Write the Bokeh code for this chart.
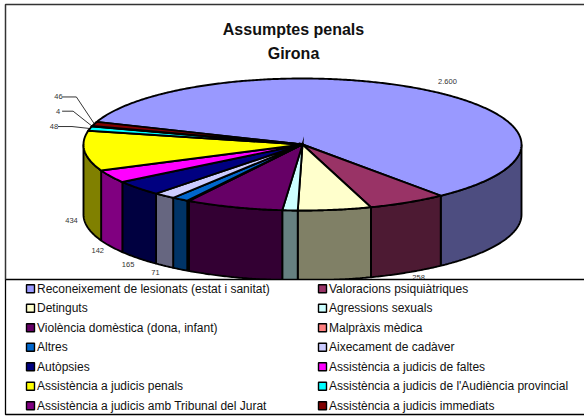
import math
from bokeh.plotting import figure
from bokeh.models import Range1d
from bokeh.core.properties import value
from bokeh.embed import file_html
from bokeh.resources import INLINE

categories = ["Reconeixement de lesionats (estat i sanitat)", "Valoracions psiquiàtriques", "Detinguts",
              "Agressions sexuals", "Violència domèstica (dona, infant)", "Malpràxis mèdica", "Altres",
              "Aixecament de cadàver", "Autòpsies", "Assistència a judicis de faltes",
              "Assistència a judicis penals", "Assistència a judicis de l'Audiència provincial",
              "Assistència a judicis amb Tribunal del Jurat", "Assistència a judicis immediats"]
values = [2600, 258, 240, 50, 320, 6, 55, 71, 165, 142, 434, 48, 4, 46]
top_colors = ["#9999ff", "#993366", "#ffffcc", "#ccffff", "#660066", "#ff8080", "#0066cc",
              "#ccccff", "#000080", "#ff00ff", "#ffff00", "#00ffff", "#800080", "#800000"]
side_colors = ["#4d4d80", "#4d1a33", "#808066", "#668080", "#330033", "#804040", "#003366",
               "#666680", "#000040", "#800080", "#808000", "#008080", "#400040", "#400000"]
shown_labels = {0: "2.600", 1: "258", 7: "71", 8: "165", 9: "142", 10: "434", 11: "48", 12: "4", 13: "46"}
label_offsets = {0: (18, -9), 1: (11, 75), 7: (-9, 77), 8: (-10, 76), 9: (-13, 74), 10: (-13, 70), 11: (-36, -2), 12: (-34, -15), 13: (-36, -27)}

CX, CY, RX, RY, DEPTH = 302, 144, 219, 66, 70
START = -70.0

p = figure(width=584, height=416, output_backend="svg", toolbar_location=None,
           x_range=Range1d(0, 584), y_range=Range1d(416, 0), min_border=0,
           margin=(0, 0, 0, 0), outline_line_color=None, background_fill_color="white")
p.xaxis.visible = False
p.yaxis.visible = False
p.xgrid.visible = False
p.ygrid.visible = False


def pt(a, dz=0):
    r = math.radians(a)
    return CX + RX * math.sin(r), CY - RY * math.cos(r) + dz


def arc(a0, a1, dz=0):
    n = max(2, int(abs(a1 - a0) * 2) + 2)
    return [pt(a0 + (a1 - a0) * i / (n - 1), dz) for i in range(n)]


total = sum(values)
edges = [START]
for v in values:
    edges.append(edges[-1] + 360 * v / total)

# sides
for i in range(len(values)):
    a0, a1 = max(edges[i], 90), min(edges[i + 1], 270)
    if a1 <= a0:
        continue
    pts = arc(a0, a1) + arc(a1, a0, DEPTH)
    p.patch([q[0] for q in pts], [q[1] for q in pts], fill_color=side_colors[i],
            line_color="black", line_width=1.9)

# tops
for i in range(len(values)):
    pts = [(CX, CY)] + arc(edges[i], edges[i + 1])
    p.patch([q[0] for q in pts], [q[1] for q in pts], fill_color=top_colors[i],
            line_color="black", line_width=1.9, line_join="miter")

# data labels and leaders
for i, t in shown_labels.items():
    mid = (edges[i] + edges[i + 1]) / 2
    x, y = pt(mid)
    dx, dy = label_offsets[i]
    p.text([x + dx], [y + dy], text=[t], text_font=value("Liberation Sans"), text_font_size="7.5px",
           text_color="#333333", text_align="center", text_baseline="middle")
    if i in (11, 12, 13):
        elbow = {11: 14, 12: 11, 13: 14}[i]
        lx = x + dx
        p.line([lx + 4, lx + 4 + elbow, x], [y + dy, y + dy, y], line_color="black", line_width=0.8)

# legend box
p.quad(left=[5], right=[590], top=[279], bottom=[414], fill_color="white", line_color="black", line_width=1.3)
# outer frame
p.line([5, 5, 590], [279, 4, 4], line_color="#333333", line_width=1.5)

# title
p.text([293, 293], [29, 53], text=["Assumptes penals", "Girona"], text_font=value("Liberation Sans"),
       text_font_style="bold", text_font_size="16px", text_color="#111111", text_align="center",
       text_baseline="middle")

# legend
for i, name in enumerate(categories):
    col, row = i % 2, i // 2
    x0 = 25 if col == 0 else 317
    y0 = 288.3 + row * 19.5
    p.quad(left=[x0 + 1], right=[x0 + 9], top=[y0 - 4], bottom=[y0 + 4], fill_color=top_colors[i],
           line_color="black", line_width=1.4)
    p.text([x0 + 11.5], [y0], text=[name], text_font=value("Liberation Sans"), text_font_size="12px",
           text_color="#111111", text_baseline="middle")

open("out.html", "w").write(file_html(p, INLINE))
